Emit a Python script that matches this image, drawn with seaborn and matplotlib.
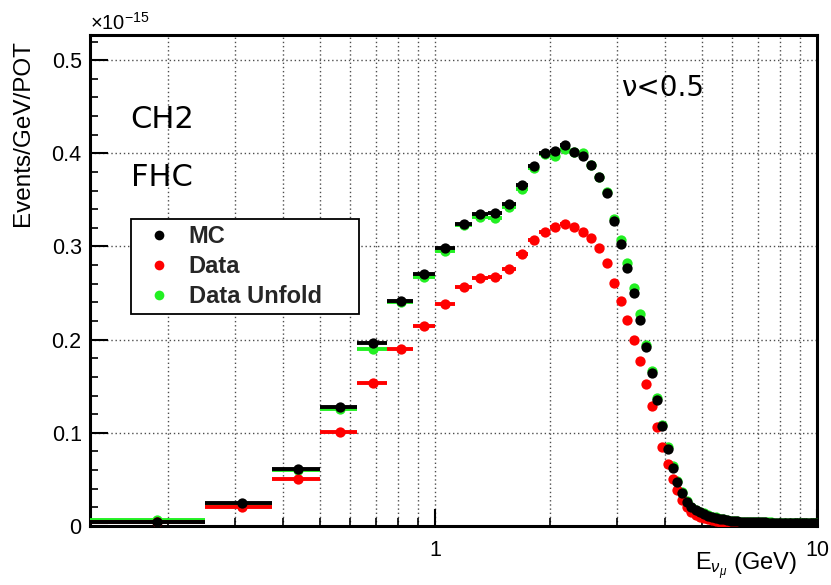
import numpy as np
import pandas as pd
import matplotlib
matplotlib.use("Agg")
import matplotlib.pyplot as plt
import seaborn as sns
from matplotlib.ticker import FixedLocator, FixedFormatter, MultipleLocator, NullFormatter, FuncFormatter
from matplotlib.lines import Line2D

# ---------------- data (units of 1e-15 Events/GeV/POT) ----------------
bin_width = 0.125
bin_low = np.arange(0.125, 10.0, bin_width)          # 79 bins, 0.125 .. 10 GeV
bin_center = bin_low + bin_width / 2

mc = [0.004, 0.025, 0.061, 0.128, 0.196, 0.242, 0.270, 0.298, 0.324, 0.335,
      0.336, 0.346, 0.366, 0.386, 0.400, 0.403, 0.409, 0.401, 0.397, 0.387,
      0.375, 0.357, 0.327, 0.303, 0.277, 0.250, 0.221, 0.192, 0.164, 0.135,
      0.107, 0.083, 0.062, 0.047, 0.035, 0.026, 0.020,
      0.017, 0.015, 0.013, 0.011, 0.0098, 0.0088, 0.0078, 0.0070, 0.0062, 0.0056,
      0.0052, 0.0049, 0.0047, 0.0045, 0.0044, 0.0042, 0.0041, 0.0040, 0.0039, 0.0038,
      0.0038, 0.0037, 0.0037, 0.0036, 0.0036, 0.0035, 0.0035, 0.0034, 0.0035, 0.0034,
      0.0033, 0.0034, 0.0033, 0.0032, 0.0033, 0.0032, 0.0031, 0.0032, 0.0031, 0.0030,
      0.0031, 0.0030]

data = [0.004, 0.020, 0.050, 0.101, 0.153, 0.190, 0.215, 0.238, 0.257, 0.266,
        0.267, 0.276, 0.292, 0.307, 0.316, 0.321, 0.324, 0.321, 0.315, 0.309,
        0.298, 0.282, 0.261, 0.241, 0.221, 0.200, 0.177, 0.152, 0.129, 0.106,
        0.085, 0.067, 0.050, 0.039, 0.028, 0.020, 0.015,
        0.012, 0.010, 0.0085, 0.0072, 0.0062, 0.0055, 0.0048, 0.0043, 0.0038, 0.0034,
        0.0031, 0.0029, 0.0027, 0.0026, 0.0025, 0.0024, 0.0023, 0.0022, 0.0022, 0.0021,
        0.0021, 0.0020, 0.0020, 0.0019, 0.0019, 0.0019, 0.0018, 0.0018, 0.0018, 0.0017,
        0.0017, 0.0017, 0.0016, 0.0016, 0.0016, 0.0015, 0.0015, 0.0015, 0.0014, 0.0014,
        0.0014, 0.0013]

unfold = [0.0065, 0.024, 0.060, 0.126, 0.190, 0.240, 0.267, 0.295, 0.323, 0.332,
          0.331, 0.342, 0.362, 0.384, 0.399, 0.397, 0.405, 0.401, 0.400, 0.387,
          0.375, 0.358, 0.330, 0.307, 0.282, 0.255, 0.227, 0.194, 0.166, 0.137,
          0.108, 0.085, 0.064, 0.048, 0.036, 0.027, 0.020,
          0.0175, 0.0155, 0.0135, 0.0114, 0.0101, 0.0091, 0.0080, 0.0072, 0.0064, 0.0058,
          0.0053, 0.0050, 0.0048, 0.0046, 0.0045, 0.0043, 0.0042, 0.0041, 0.0040, 0.0039,
          0.0039, 0.0038, 0.0038, 0.0037, 0.0037, 0.0036, 0.0036, 0.0035, 0.0036, 0.0035,
          0.0034, 0.0035, 0.0034, 0.0033, 0.0034, 0.0033, 0.0032, 0.0033, 0.0032, 0.0031,
          0.0032, 0.0031]

series_names = ["MC", "Data", "Data Unfold"]
series_colors = {"MC": "#000000", "Data": "#ff0000", "Data Unfold": "#22f022"}
draw_order = ["Data Unfold", "Data", "MC"]

y_ticks = [0, 0.1, 0.2, 0.3, 0.4, 0.5]
x_major = [1, 10]
x_major_labels = ["1", "10"]
x_minor = [0.2, 0.3, 0.4, 0.5, 0.6, 0.7, 0.8, 0.9, 2, 3, 4, 5, 6, 7, 8, 9]

df = pd.concat([
    pd.DataFrame({"E": bin_center, "val": vals, "series": name})
    for name, vals in zip(series_names, [mc, data, unfold])
], ignore_index=True)

# ---------------- style ----------------
sns.set_theme(style="white")
plt.rcParams["font.family"] = ["Liberation Sans", "DejaVu Sans"]
plt.rcParams["mathtext.fontset"] = "custom"
plt.rcParams["mathtext.rm"] = "Liberation Sans"
plt.rcParams["mathtext.it"] = "Liberation Sans:italic"
plt.rcParams["mathtext.bf"] = "Liberation Sans:bold"
plt.rcParams["mathtext.sf"] = "Liberation Sans"

fig = plt.figure(figsize=(8.31, 5.85), dpi=100)
fig.patch.set_facecolor("white")
ax = fig.add_axes([0.1083, 0.1009, 0.8749, 0.8393])
ax.set_facecolor("white")

for i, name in enumerate(draw_order):
    sub = df[df["series"] == name]
    ax.errorbar(sub["E"], sub["val"], xerr=bin_width / 2, fmt="none",
                ecolor=series_colors[name], elinewidth=2.8, capsize=0,
                zorder=3 + 2 * i)
    sns.scatterplot(data=sub, x="E", y="val", color=series_colors[name],
                    s=55, linewidth=0, ax=ax, legend=False, zorder=4 + 2 * i)

ax.set_xscale("log")
ax.set_xlim(0.125, 10)
ax.set_ylim(0, 0.527)

ax.xaxis.set_major_locator(FixedLocator(x_major))
ax.xaxis.set_major_formatter(FixedFormatter(x_major_labels))
ax.xaxis.set_minor_locator(FixedLocator(x_minor))
ax.xaxis.set_minor_formatter(NullFormatter())
ax.yaxis.set_major_locator(FixedLocator(y_ticks))
ax.yaxis.set_major_formatter(FuncFormatter(lambda v, p: f"{v:g}"))
ax.yaxis.set_minor_locator(MultipleLocator(0.02))

ax.grid(True, which="major", axis="both", linestyle=(0, (1, 2)), color="0.3", linewidth=1.0)
ax.grid(True, which="minor", axis="x", linestyle=(0, (1, 2)), color="0.3", linewidth=1.0)
ax.set_axisbelow(True)

ax.tick_params(axis="both", which="both", direction="in", colors="black",
               bottom=True, left=True, top=False, right=False)
ax.tick_params(axis="y", which="major", length=13, width=1.5, pad=6, labelsize=15.5)
ax.tick_params(axis="y", which="minor", length=6, width=1.2)
ax.tick_params(axis="x", which="major", length=12, width=1.5, pad=10, labelsize=15.5)
ax.tick_params(axis="x", which="minor", length=6, width=1.2)

for sp in ax.spines.values():
    sp.set_visible(True)
    sp.set_color("black")
    sp.set_linewidth(2.2)

# axis labels
ax.set_ylabel("Events/GeV/POT", fontsize=17.5, color="black")
ax.yaxis.label.set_rotation_mode("default")
ax.yaxis.label.set_va("top")
ax.yaxis.label.set_ha("center")
ax.yaxis.set_label_coords(-0.092, 0.99)

ax.set_xlabel(r"E$_{\nu_{\mu}}$ (GeV)", fontsize=17, color="black")
ax.xaxis.label.set_ha("right")
ax.xaxis.label.set_va("center")
ax.xaxis.set_label_coords(0.9725, -0.083)

# exponent label
ax.text(0.0, 1.002, r"$\times10^{-15}$", transform=ax.transAxes,
        ha="left", va="bottom", fontsize=14.5, color="black")

# annotations
ax.text(0.055, 0.827, "CH2", transform=ax.transAxes, ha="left", va="center",
        fontsize=22, family="DejaVu Sans", color="black")
ax.text(0.057, 0.709, "FHC", transform=ax.transAxes, ha="left", va="center",
        fontsize=22, family="DejaVu Sans", color="black")
ax.text(0.788, 0.892, "\u03bd<0.5", transform=ax.transAxes, ha="center", va="center",
        fontsize=20, family="DejaVu Sans", color="black")

# legend
handles = [Line2D([], [], marker="o", linestyle="none", markersize=7,
                  markerfacecolor=series_colors[n], markeredgewidth=0)
           for n in series_names]
leg = ax.legend(handles, series_names, loc="upper left",
                bbox_to_anchor=(0.0564, 0.411, 0.314, 0.214), mode="expand",
                borderaxespad=0, prop={"weight": "bold", "size": 17},
                frameon=True, fancybox=False, framealpha=1, edgecolor="black",
                borderpad=0.25, labelspacing=0.3, handlelength=1.9, handletextpad=0.3)
leg.get_frame().set_linewidth(1.3)
leg.set_zorder(20)

fig.savefig("out.png", dpi=100)
